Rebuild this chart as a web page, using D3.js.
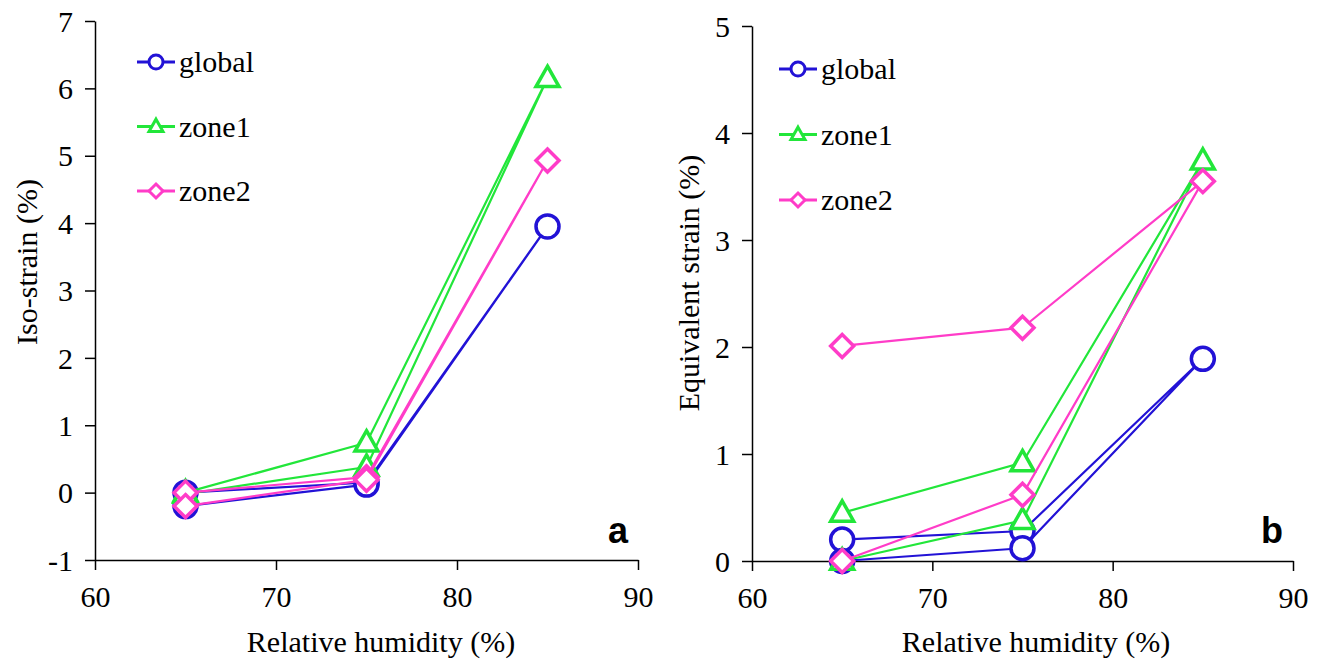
<!DOCTYPE html>
<html>
<head>
<meta charset="utf-8">
<script src="https://cdn.jsdelivr.net/npm/d3@7"></script>
<style>
	body { margin: 0; background: #fff; }
	svg text { font-family: "Liberation Serif", "Times New Roman", Times, "DejaVu Serif", serif; fill: #000; }
	.axis path, .axis line { stroke: #000; stroke-width: 1.5; }
</style>
</head>
<body>
<div id="graph"></div>
<script>
/*
=====================================================
=========	DATA	=========
=====================================================
*/

// humidity path: up 65 -> 85 then back down to 65
var humidity = [65, 75, 85, 75, 65];

var seriesNames = ["global", "zone1", "zone2"];

// panel a : iso-strain (%)
var isoGlobal = [0.0, 0.15, 3.95, 0.12, -0.2];
var isoZone1 = [0.0, 0.74, 6.15, 0.38, -0.02];
var isoZone2 = [0.0, 0.23, 4.93, 0.19, -0.2];

// panel b : equivalent strain (%)
var eqGlobal = [0.2, 0.28, 1.89, 0.12, 0.0];
var eqZone1 = [0.45, 0.92, 3.74, 0.38, 0.0];
var eqZone2 = [2.01, 2.18, 3.55, 0.62, 0.0];

var xTicks = [60, 70, 80, 90];
var isoTicks = [-1, 0, 1, 2, 3, 4, 5, 6, 7];
var eqTicks = [0, 1, 2, 3, 4, 5];

/*
=====================================================
=========	GLOBAL VARIABLE DECLARATIONS	=========
=====================================================
*/

var SVGwidth = 1326,
	SVGheight = 666,
	serif = "'Liberation Serif', 'Times New Roman', Times, 'DejaVu Serif', serif";

var color = d3.scaleOrdinal()
	.domain(seriesNames)
	.range(["#2212d6", "#22e63a", "#ff3cc8"]);

var shape = d3.scaleOrdinal()
	.domain(seriesNames)
	.range(["circle", "triangle", "diamond"]);

var svg = d3.select('div#graph')
	.append('svg')
	.attr('width', SVGwidth)
	.attr('height', SVGheight);

// marker path, s = half size
function markerPath(type, s){
	if (type == "circle"){
		return "M" + s + ",0A" + s + "," + s + " 0 1,1 " + (-s) + ",0A" + s + "," + s + " 0 1,1 " + s + ",0Z";
	} else if (type == "triangle"){
		return "M0," + (-s * 1.05) + "L" + s + "," + (s * 0.72) + "L" + (-s) + "," + (s * 0.72) + "Z";
	}
	return "M0," + (-s) + "L" + s + ",0L0," + s + "L" + (-s) + ",0Z";
}

// plain hyphen for negative ticks, like the original
function tickText(d){ return String(d); }

function drawPanel(p){
	var x = d3.scaleLinear().domain([60, 90]).range([p.left, p.right]);
	var y = d3.scaleLinear().domain(p.yDomain).range([p.bottom, p.top]);

	var g = svg.append("g").attr("class", "panel-" + p.letter);

	var xAxis = d3.axisBottom(x)
		.tickValues(xTicks)
		.tickSize(10)
		.tickSizeOuter(0)
		.tickPadding(8)
		.tickFormat(tickText);

	var yAxis = d3.axisLeft(y)
		.tickValues(p.yTicks)
		.tickSize(10)
		.tickSizeOuter(0)
		.tickPadding(12)
		.tickFormat(tickText);

	g.append("g")
		.attr("class", "x axis")
		.attr("transform", "translate(0," + p.bottom + ")")
		.call(xAxis)
		.attr("font-family", serif)
		.attr("font-size", 30);

	g.append("g")
		.attr("class", "y axis")
		.attr("transform", "translate(" + p.left + ",0)")
		.call(yAxis)
		.attr("font-family", serif)
		.attr("font-size", 30);

	g.selectAll(".y.axis .tick text").attr("dy", "0.34em");
	g.selectAll(".x.axis .tick text").attr("dy", "0.95em");

	// axis titles
	g.append("text")
		.attr("x", p.xTitleX)
		.attr("y", 652)
		.attr("text-anchor", "middle")
		.style("font-size", "30px")
		.text("Relative humidity (%)");

	g.append("text")
		.attr("transform", "translate(" + p.yTitleX + "," + p.yTitleY + ") rotate(-90)")
		.attr("text-anchor", "middle")
		.style("font-size", "30px")
		.text(p.yTitle);

	// panel letter
	g.append("text")
		.attr("x", p.right - 10)
		.attr("y", 543)
		.attr("text-anchor", "end")
		.style("font-family", "'Liberation Sans', Arial, sans-serif")
		.style("font-weight", "bold")
		.style("font-size", "36px")
		.text(p.letter);

	var line = d3.line()
		.x(function(d){ return x(d.h); })
		.y(function(d){ return y(d.v); });

	p.series.forEach(function(s){
		var data = humidity.map(function(h, i){ return {h: h, v: s.values[i]}; });
		var sg = g.append("g").attr("class", s.name);

		sg.append("path")
			.datum(data)
			.attr("fill", "none")
			.attr("stroke", color(s.name))
			.attr("stroke-width", 2.2)
			.attr("stroke-linejoin", "round")
			.attr("d", line);

		sg.selectAll("path.marker")
			.data(data)
			.enter()
			.append("path")
			.attr("class", "marker")
			.attr("transform", function(d){ return "translate(" + x(d.h) + "," + y(d.v) + ")"; })
			.attr("d", markerPath(shape(s.name), 11.5))
			.attr("fill", "#fff")
			.attr("stroke", color(s.name))
			.attr("stroke-width", 3.5);
	});

	// legend
	var legend = g.selectAll("g.legend")
		.data(seriesNames)
		.enter()
		.append("g")
		.attr("class", "legend")
		.attr("transform", function(d, i){ return "translate(" + p.legX + "," + (p.legY + i * p.legStep) + ")"; });

	legend.append("line")
		.attr("x1", 0).attr("x2", 38)
		.attr("stroke", function(d){ return color(d); })
		.attr("stroke-width", 3);

	legend.append("path")
		.attr("transform", "translate(19,0)")
		.attr("d", function(d){ return markerPath(shape(d), 7); })
		.attr("fill", "#fff")
		.attr("stroke", function(d){ return color(d); })
		.attr("stroke-width", 3);

	legend.append("text")
		.attr("x", 42)
		.attr("y", 10)
		.style("font-size", "30px")
		.text(function(d){ return d; });
}

drawPanel({
	letter: "a",
	left: 95, right: 638, top: 21, bottom: 560,
	yDomain: [-1, 7], yTicks: isoTicks,
	yTitle: "Iso-strain (%)", yTitleX: 37, yTitleY: 262,
	xTitleX: 381,
	legX: 137, legY: 62, legStep: 64.5,
	series: [
		{name: "global", values: isoGlobal},
		{name: "zone1", values: isoZone1},
		{name: "zone2", values: isoZone2}
	]
});

drawPanel({
	letter: "b",
	left: 752, right: 1293, top: 26, bottom: 561,
	yDomain: [0, 5], yTicks: eqTicks,
	yTitle: "Equivalent strain (%)", yTitleX: 699, yTitleY: 283,
	xTitleX: 1036,
	legX: 779, legY: 69, legStep: 65.5,
	series: [
		{name: "global", values: eqGlobal},
		{name: "zone1", values: eqZone1},
		{name: "zone2", values: eqZone2}
	]
});
</script>
</body>
</html>
